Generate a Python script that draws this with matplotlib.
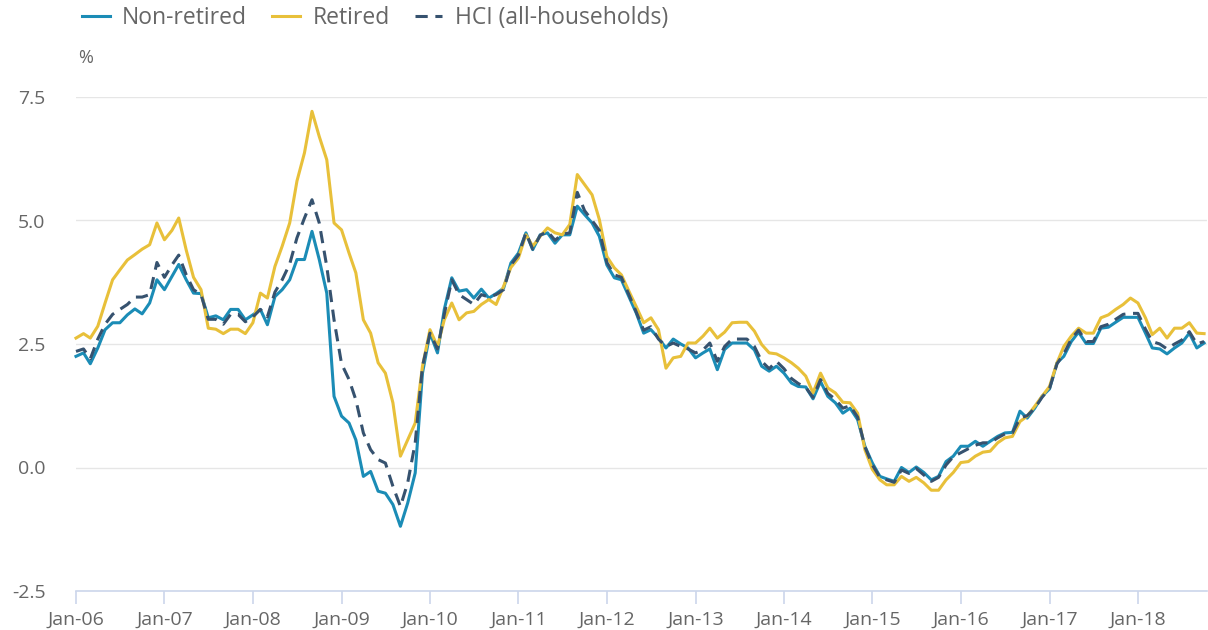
import matplotlib
matplotlib.use("Agg")
import matplotlib.pyplot as plt
import matplotlib.dates as mdates
import pandas as pd

# monthly series, Jan-06 .. Oct-18 (%)
months = pd.date_range("2006-01-01", periods=154, freq="MS")

non_retired = [
    2.25, 2.32, 2.10, 2.42, 2.79, 2.93, 2.93, 3.09, 3.21, 3.11, 3.33, 3.80,
    3.60, 3.87, 4.11, 3.80, 3.53, 3.52, 3.03, 3.07, 2.99, 3.20, 3.20, 2.99,
    3.09, 3.20, 2.89, 3.46, 3.60, 3.80, 4.21, 4.21, 4.78, 4.21, 3.53, 1.44,
    1.04, 0.90, 0.56, -0.18, -0.08, -0.48, -0.52, -0.75, -1.19, -0.72, -0.11, 1.91,
    2.72, 2.32, 3.20, 3.84, 3.57, 3.60, 3.43, 3.61, 3.43, 3.52, 3.63, 4.14,
    4.34, 4.75, 4.41, 4.71, 4.75, 4.54, 4.71, 4.71, 5.29, 5.12, 4.95, 4.68,
    4.10, 3.84, 3.80, 3.46, 3.13, 2.72, 2.79, 2.62, 2.42, 2.60, 2.50, 2.42,
    2.22, 2.32, 2.40, 1.98, 2.39, 2.52, 2.52, 2.52, 2.38, 2.05, 1.95, 2.05,
    1.91, 1.71, 1.64, 1.63, 1.39, 1.74, 1.44, 1.31, 1.10, 1.20, 0.97, 0.43,
    0.09, -0.18, -0.23, -0.28, 0.00, -0.10, 0.01, -0.10, -0.25, -0.18, 0.12, 0.23,
    0.43, 0.43, 0.53, 0.43, 0.53, 0.63, 0.70, 0.71, 1.14, 1.00, 1.20, 1.44,
    1.59, 2.12, 2.25, 2.55, 2.74, 2.51, 2.51, 2.82, 2.84, 2.94, 3.04, 3.04,
    3.04, 2.72, 2.42, 2.40, 2.30, 2.42, 2.52, 2.72, 2.42, 2.52,
]

retired = [
    2.62, 2.71, 2.62, 2.86, 3.33, 3.80, 4.00, 4.20, 4.31, 4.42, 4.51, 4.95,
    4.61, 4.80, 5.05, 4.40, 3.85, 3.60, 2.82, 2.80, 2.71, 2.80, 2.80, 2.71,
    2.93, 3.53, 3.43, 4.07, 4.48, 4.95, 5.80, 6.37, 7.21, 6.70, 6.23, 4.95,
    4.81, 4.34, 3.94, 2.99, 2.72, 2.12, 1.91, 1.31, 0.23, 0.56, 0.90, 2.05,
    2.79, 2.45, 2.99, 3.33, 2.99, 3.13, 3.16, 3.30, 3.40, 3.30, 3.67, 4.05,
    4.24, 4.71, 4.48, 4.68, 4.85, 4.75, 4.71, 4.92, 5.93, 5.73, 5.52, 5.02,
    4.27, 4.04, 3.90, 3.57, 3.26, 2.93, 3.03, 2.79, 2.01, 2.22, 2.25, 2.52,
    2.52, 2.66, 2.82, 2.62, 2.74, 2.93, 2.94, 2.94, 2.76, 2.49, 2.32, 2.30,
    2.22, 2.12, 2.01, 1.85, 1.51, 1.91, 1.61, 1.51, 1.32, 1.31, 1.10, 0.36,
    -0.04, -0.25, -0.35, -0.35, -0.18, -0.28, -0.20, -0.31, -0.46, -0.46, -0.25, -0.10,
    0.10, 0.12, 0.23, 0.31, 0.33, 0.50, 0.60, 0.63, 0.93, 1.04, 1.24, 1.44,
    1.64, 2.12, 2.45, 2.66, 2.82, 2.72, 2.72, 3.03, 3.09, 3.20, 3.30, 3.43,
    3.33, 3.03, 2.69, 2.82, 2.62, 2.82, 2.82, 2.93, 2.72, 2.71,
]

hci_all = [
    2.35, 2.40, 2.20, 2.60, 2.90, 3.10, 3.20, 3.30, 3.45, 3.45, 3.50, 4.15,
    3.85, 4.10, 4.30, 3.90, 3.60, 3.50, 3.00, 3.00, 2.90, 3.10, 3.10, 2.95,
    3.05, 3.20, 3.05, 3.55, 3.80, 4.12, 4.65, 5.05, 5.42, 4.95, 4.07, 2.99,
    2.10, 1.78, 1.37, 0.70, 0.36, 0.16, 0.09, -0.38, -0.79, -0.31, 0.50, 2.05,
    2.72, 2.40, 3.10, 3.80, 3.50, 3.40, 3.30, 3.50, 3.45, 3.50, 3.60, 4.10,
    4.30, 4.75, 4.42, 4.70, 4.78, 4.60, 4.72, 4.75, 5.57, 5.20, 5.00, 4.80,
    4.15, 3.90, 3.85, 3.50, 3.15, 2.78, 2.85, 2.60, 2.45, 2.52, 2.45, 2.40,
    2.32, 2.38, 2.52, 2.15, 2.45, 2.60, 2.60, 2.60, 2.45, 2.15, 2.00, 2.15,
    2.00, 1.80, 1.70, 1.62, 1.42, 1.78, 1.50, 1.38, 1.20, 1.25, 1.02, 0.42,
    0.05, -0.20, -0.25, -0.30, -0.05, -0.12, -0.02, -0.15, -0.28, -0.20, 0.05, 0.22,
    0.30, 0.38, 0.45, 0.50, 0.50, 0.60, 0.68, 0.70, 1.00, 1.05, 1.20, 1.42,
    1.60, 2.10, 2.30, 2.60, 2.78, 2.55, 2.55, 2.85, 2.90, 3.00, 3.10, 3.12,
    3.12, 2.80, 2.55, 2.50, 2.40, 2.50, 2.58, 2.75, 2.50, 2.55,
]

y_ticks = [-2.5, 0.0, 2.5, 5.0, 7.5]

plt.rcParams["font.family"] = ["Open Sans", "DejaVu Sans"]
text_col = "#666666"
axis_col = "#ccd6eb"

fig = plt.figure(figsize=(12.08, 6.30), dpi=100)
ax = fig.add_axes([76 / 1208, 39 / 630, 1131 / 1208, 494 / 630])

ax.plot(months, non_retired, color="#1b8cb6", lw=2.2, label="Non-retired", clip_on=False)
ax.plot(months, retired, color="#e8c03a", lw=2.2, label="Retired", clip_on=False)
ax.plot(months, hci_all, color="#36526f", lw=2.2, dashes=(4, 2.5),
        label="HCI (all-households)", clip_on=False)

ax.set_xlim(months[0], months[-1] + pd.Timedelta(days=12))
ax.set_ylim(-2.5, 7.5)
ax.set_yticks(y_ticks)
ax.set_yticklabels([f"{v:.1f}" for v in y_ticks])
ax.grid(axis="y", color="#e6e6e6", lw=1)
ax.set_axisbelow(True)

ax.xaxis.set_major_locator(mdates.YearLocator(month=1))
ax.xaxis.set_major_formatter(mdates.DateFormatter("Jan-%y"))

for s in ["top", "right", "left"]:
    ax.spines[s].set_visible(False)
ax.spines["bottom"].set_color(axis_col)
ax.spines["bottom"].set_linewidth(1.2)

ax.tick_params(axis="x", colors=axis_col, length=9, width=1.2, pad=5,
               labelcolor=text_col, labelsize=14)
ax.tick_params(axis="y", length=0, pad=22, labelcolor=text_col, labelsize=14)

fig.text(78 / 1208, 1 - 58 / 630, "%", color=text_col, fontsize=13, va="center")

fig.legend(loc="center left", bbox_to_anchor=(82 / 1208, 1 - 18 / 630), ncol=3,
           frameon=False, fontsize=16.5, labelcolor=text_col, handlelength=1.2,
           handletextpad=0.55, columnspacing=1.1, borderaxespad=0, borderpad=0)

fig.savefig("out.png", dpi=100)
